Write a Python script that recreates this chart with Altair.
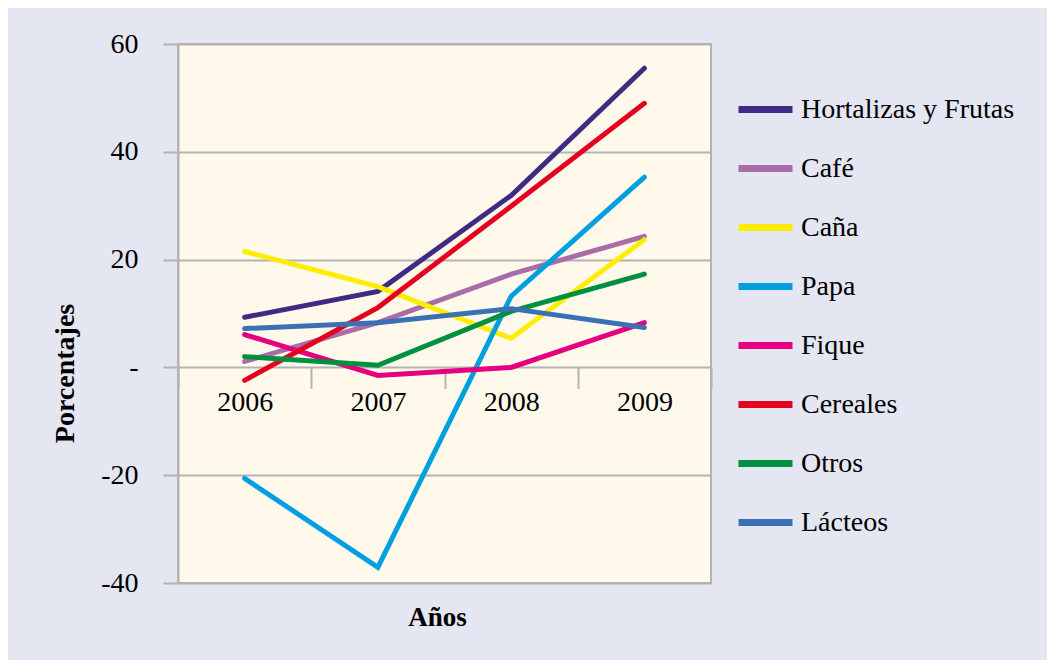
import altair as alt
import pandas as pd

years = ["2006", "2007", "2008", "2009"]
series = ["Hortalizas y Frutas", "Café", "Caña", "Papa", "Fique", "Cereales", "Otros", "Lácteos"]
colors = ["#3F2A84", "#A96CA8", "#FFED00", "#00A0E0", "#E4007F", "#E60020", "#009140", "#3C70B4"]

hortalizas = [9.3, 14.1, 31.9, 55.5]
cafe = [1.1, 8.3, 17.3, 24.3]
cana = [21.5, 15.0, 5.4, 23.7]
papa = [-20.6, -37.1, 13.2, 35.3]
fique = [6.1, -1.5, 0.0, 8.3]
cereales = [-2.4, 11.1, 29.9, 49.0]
otros = [2.0, 0.4, 10.4, 17.3]
lacteos = [7.2, 8.3, 10.9, 7.4]

values = [hortalizas, cafe, cana, papa, fique, cereales, otros, lacteos]

rows = []
for name, vals in zip(series, values):
    for yr, v in zip(years, vals):
        rows.append({"serie": name, "year": yr, "value": v})
df = pd.DataFrame(rows)

FONT = "Liberation Serif"
GRID = "#B3B3B3"

W, H = 533, 539
zero_px = H * 60 / 100  # position of 0 from top

chart = alt.Chart(df).mark_line(strokeWidth=5, strokeCap="round", strokeJoin="miter").encode(
    x=alt.X(
        "year:O",
        scale=alt.Scale(type="band", paddingInner=0, paddingOuter=0),
        axis=alt.Axis(
            title="Años",
            orient="bottom",
            offset=zero_px - H,
            tickBand="extent",
            labelAngle=0,
            tickSize=21,
            tickWidth=2,
            tickColor=GRID,
            labelPadding=0,
            labelFont=FONT,
            labelFontSize=28,
            labelColor="black",
            domain=False,
            grid=False,
            titleFont=FONT,
            titleFontSize=27,
            titleFontWeight="bold",
            titleColor="black",
            titleX=259,
            titleY=617 - 367.4,
            titleBaseline="middle",
            titleAlign="center",
        ),
    ),
    y=alt.Y(
        "value:Q",
        scale=alt.Scale(domain=[-40, 60], nice=False, zero=False),
        axis=alt.Axis(
            values=[-40, -20, 0, 20, 40, 60],
            labelExpr="datum.value == 0 ? '-' : '' + datum.value",
            title="Porcentajes",
            titleFont=FONT,
            titleFontSize=28,
            titleFontWeight="bold",
            titleColor="black",
            titleAngle=270,
            titleX=-113,
            titleY=329,
            titleBaseline="middle",
            titleAlign="center",
            labelFont=FONT,
            labelFontSize=28,
            labelColor="black",
            labelPadding=25,
            tickSize=15,
            tickWidth=2,
            tickColor=GRID,
            domainColor=GRID,
            domainWidth=2,
            gridColor=GRID,
            gridWidth=2,
        ),
    ),
    color=alt.Color(
        "serie:N",
        scale=alt.Scale(domain=series, range=colors),
        legend=alt.Legend(
            title=None,
            orient="none",
            legendX=557,
            legendY=35,
            symbolType="stroke",
            symbolSize=2916,
            symbolStrokeWidth=7,
            labelFont=FONT,
            labelFontSize=28,
            labelColor="black",
            labelOffset=5,
            rowPadding=14,
            labelLimit=400,
        ),
    ),
    order=alt.Order("year:O"),
).properties(
    width=W,
    height=H,
    background="#E4E6F2",
    padding={"left": 170, "top": 36, "right": 1039 - 170 - W, "bottom": 652 - 36 - H},
    autosize=alt.AutoSizeParams(type="none"),
).configure_view(
    fill="#FFF9EC",
    stroke=GRID,
    strokeWidth=2,
)

chart.save("out.html", embed_options={"renderer": "svg", "actions": False})
